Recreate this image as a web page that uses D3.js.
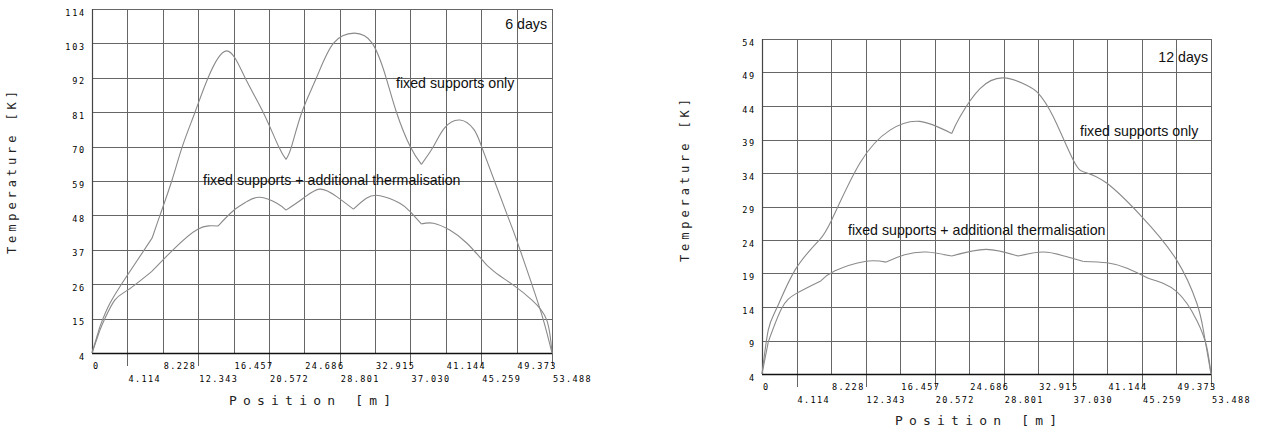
<!DOCTYPE html>
<html><head><meta charset="utf-8">
<script src="https://cdn.jsdelivr.net/npm/d3@7"></script>
<style>body{margin:0;background:#fff} svg{display:block}</style>
</head><body>
<svg id="c" width="1261" height="435"></svg>
<script>
// ---------- data ----------
const xTickLabels = ["0","4.114","8.228","12.343","16.457","20.572","24.686","28.801","32.915","37.030","41.144","45.259","49.373","53.488"];
const yTicks6 = [4,15,26,37,48,59,70,81,92,103,114];
const yTicks12 = [4,9,14,19,24,29,34,39,44,49,54];

// 6 days : fixed supports only  [position m, temperature K]
const fixed6 = [[0,4],[0.93,12.5],[2.09,19.9],[4.15,29],[7.0,40.8],[7.9,48],[9.27,59],[10.5,70],[11.98,81],[13.5,92],
  [15.66,100.6],[17.8,92],[19.9,81],[21.7,70],[22.56,65.9],[23.2,70],[24.4,81],[26.1,92],[28.06,103],
  [30.5,106.3],[32.6,103],[34.2,92],[35.4,81],[37.0,70],[38.3,64.3],[39.7,70],[41.0,76],[42.8,78.5],[44.4,75.5],
  [45.3,70],[46.8,59],[48.3,48],[49.38,40.1],[51.13,26.1],[52.48,14.6],[53.488,4]];
const fixed6Kinks = [0.93,7.0,22.56,38.3];
// 6 days : fixed supports + additional thermalisation
const therm6 = [[0,4],[0.9,11.2],[1.5,15],[2.67,21],[4.15,24.1],[7.0,30.2],[9.42,37],[12.3,43.6],[14.65,44.6],
  [16.43,49.5],[18.0,52.4],[19.5,53.8],[21.5,51.9],[22.56,49.7],[24.57,53.5],[26.5,56.4],[28.45,54],[30.4,50],
  [31.9,53.5],[33.5,54.3],[35.8,51.9],[37.0,49.2],[38.3,45.3],[39.7,45.5],[41.6,43.3],[43.6,39.1],[45.9,32.1],
  [47.25,29],[49.0,25.7],[51.13,21],[52.87,14.6],[53.488,4]];
const therm6Kinks = [0.9,7.0,14.65,22.56,30.4,38.3,45.9];

// 12 days : fixed supports only
const fixed12 = [[0,4],[0.75,10.6],[1.75,13.8],[3.93,19.5],[6.9,24.1],[8.3,27],[11.67,35.5],[15.25,40.4],[18.8,41.7],
  [22.6,39.9],[23.59,42.4],[25.97,46.6],[28.8,48.2],[31.53,47.1],[32.92,45.9],[34.7,42.4],[37.09,35.9],
  [38.28,34.2],[41.06,32.5],[45.23,27.5],[49.4,21],[51.79,14.6],[52.57,10.6],[53.488,4]];
const fixed12Kinks = [6.9,22.6,38.28];
// 12 days : fixed supports + additional thermalisation
const therm12 = [[0,4],[0.75,8.8],[2.35,13.8],[4.05,16],[7.0,17.9],[8.7,19.4],[12.27,20.8],[14.8,20.7],[17.0,21.8],
  [19.6,22.2],[22.6,21.6],[26.7,22.6],[30.5,21.6],[33.5,22.2],[36.0,21.6],[38.3,20.8],[41.1,20.6],[43.5,19.8],
  [46.0,18.3],[49.4,16.3],[51.8,12],[52.97,8.1],[53.488,4]];
const therm12Kinks = [0.75,7.0,14.8,22.6,30.5,38.3,46.0];

// ---------- drawing ----------
const svg = d3.select("#c");
const xVals = xTickLabels.map(Number);
const mono = "'DejaVu Sans Mono', monospace";
const sans = "'Liberation Sans', Arial, sans-serif";

function splitAtKinks(data, kinks) {
  const segs = []; let cur = [];
  data.forEach(p => {
    cur.push(p);
    if (kinks.some(k => Math.abs(k - p[0]) < 1e-9)) { segs.push(cur); cur = [p]; }
  });
  if (cur.length > 1) segs.push(cur);
  return segs;
}

function chart(cfg) {
  const {left, top, w, h, yTicks} = cfg;
  const g = svg.append("g").attr("transform", `translate(${left},${top})`);
  const x = d3.scaleLinear().domain([0, 53.488]).range([0, w]);
  const y = d3.scaleLinear().domain([yTicks[0], yTicks[yTicks.length-1]]).range([h, 0]);
  const cx = v => Math.round(x(v)) + 0.5, cy = v => Math.round(y(v)) + 0.5;

  // vertical grid
  g.selectAll(".vg").data(xVals).join("line")
    .attr("x1", cx).attr("x2", cx).attr("y1", 0)
    .attr("y2", (d,i) => (i % 2 === 1) ? h + 13 : h)
    .attr("stroke", "#666").attr("stroke-width", 1);
  // horizontal grid
  g.selectAll(".hg").data(yTicks).join("line")
    .attr("x1", 0).attr("x2", w).attr("y1", cy).attr("y2", cy)
    .attr("stroke", "#666").attr("stroke-width", 1);
  // axes
  g.append("line").attr("x1", 0).attr("x2", w).attr("y1", cy(yTicks[0])).attr("y2", cy(yTicks[0]))
    .attr("stroke", "#111").attr("stroke-width", 1.5);
  g.append("line").attr("x1", cx(0)).attr("x2", cx(0)).attr("y1", 0).attr("y2", h)
    .attr("stroke", "#444").attr("stroke-width", 1.2);

  // y tick labels
  g.selectAll(".yl").data(yTicks).join("text")
    .attr("x", -6).attr("y", d => y(d) + 6.5)
    .attr("text-anchor", "end").attr("font-family", mono).attr("font-size", 8.5)
    .attr("letter-spacing", 1.8).attr("fill", "#000").text(d => d);
  // x tick labels
  g.selectAll(".xl").data(xTickLabels).join("text")
    .attr("x", (d,i) => x(xVals[i]) + 1).attr("y", (d,i) => (i % 2 === 0) ? h + 16 : h + 29)
    .attr("font-family", mono).attr("font-size", 8.5).attr("letter-spacing", 1.4)
    .attr("fill", "#000").text(d => d);

  // curves
  const line = d3.line().x(d => x(d[0])).y(d => y(d[1])).curve(d3.curveNatural);
  cfg.series.forEach(s => {
    splitAtKinks(s.data, s.kinks).forEach(seg => {
      g.append("path").attr("d", line(seg)).attr("fill", "none")
        .attr("stroke", "#8a8a8a").attr("stroke-width", 1.1);
    });
  });

  // annotations
  cfg.notes.forEach(n => {
    g.append("text").attr("x", n.x).attr("y", n.y).attr("text-anchor", n.anchor || "start")
      .attr("font-family", sans).attr("font-size", 14.2).attr("fill", "#111").text(n.t);
  });

  // axis titles
  g.append("text").attr("x", cfg.xtX).attr("y", cfg.xtY)
    .attr("font-family", mono).attr("font-size", 13).attr("letter-spacing", 6.2)
    .attr("fill", "#222").text("Position [m]");
  g.append("text").attr("transform", `translate(${cfg.ytX},${cfg.ytY}) rotate(-90)`)
    .attr("font-family", mono).attr("font-size", 12).attr("letter-spacing", 3.9)
    .attr("fill", "#222").text("Temperature [K]");
}

chart({
  left: 92, top: 9, w: 460, h: 344, yTicks: yTicks6,
  series: [{data: fixed6, kinks: fixed6Kinks}, {data: therm6, kinks: therm6Kinks}],
  notes: [{t: "6 days", x: 455, y: 20, anchor: "end"},
          {t: "fixed supports only", x: 304, y: 79},
          {t: "fixed supports + additional thermalisation", x: 111, y: 176}],
  xtX: 137, xtY: 396, ytX: 16 - 92, ytY: 254 - 9
});
chart({
  left: 762, top: 39, w: 449, h: 335, yTicks: yTicks12,
  series: [{data: fixed12, kinks: fixed12Kinks}, {data: therm12, kinks: therm12Kinks}],
  notes: [{t: "12 days", x: 446, y: 23, anchor: "end"},
          {t: "fixed supports only", x: 318, y: 97},
          {t: "fixed supports + additional thermalisation", x: 86, y: 196}],
  xtX: 133, xtY: 386, ytX: 689 - 762, ytY: 262 - 39
});
</script>
</body></html>
